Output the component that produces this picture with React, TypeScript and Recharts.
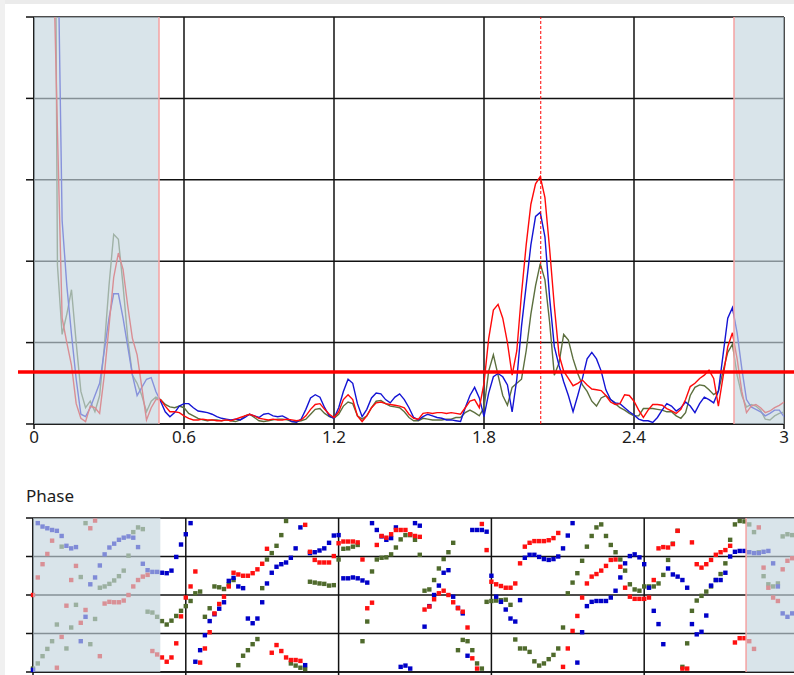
import React from "react";
import {
  LineChart,
  Line,
  ScatterChart,
  Scatter,
  XAxis,
  YAxis,
  CartesianGrid,
  ReferenceArea,
  ReferenceLine,
} from "recharts";

// frequency bins (same grid for magnitude and phase)
const BIN = 0.01875;
const freq = Array.from({ length: 161 }, (_, i) => Number((i * BIN).toFixed(5)));

const xTicks = [0, 0.6, 1.2, 1.8, 2.4, 3];
const magTicks = [0, 1, 2, 3, 4, 5];
const phaseTicks = [-180, -90, 0, 90, 180];

const lowBand = [0, 0.5];
const highBand = [2.8, 3];
const markerFreq = 2.027;
const threshold = 0.64;

// magnitude (values above 5 run off the top)
const magRed = [
  22, 18, 14, 10, 6.1, 3.6, 1.3, 1.0, 0.72, 0.25,
  0.07, 0.03, 0.22, 0.2, 0.13, 0.6, 1.2, 1.8, 2.1, 1.9,
  1.45, 1.05, 0.85, 0.45, 0.05, 0.2, 0.3, 0.3, 0.22, 0.15,
  0.15, 0.14, 0.1, 0.07, 0.05, 0.05, 0.06, 0.05, 0.05, 0.04,
  0.04, 0.05, 0.04, 0.06, 0.08, 0.1, 0.12, 0.1, 0.07, 0.06,
  0.05, 0.06, 0.05, 0.05, 0.06, 0.05, 0.04, 0.05, 0.1, 0.18,
  0.24, 0.25, 0.18, 0.12, 0.08, 0.15, 0.3, 0.36, 0.3, 0.1,
  0.03, 0.1, 0.2, 0.26, 0.27, 0.25, 0.24, 0.23, 0.22, 0.2,
  0.12, 0.07, 0.06, 0.13, 0.14, 0.13, 0.14, 0.14, 0.13, 0.14,
  0.13, 0.12, 0.2, 0.28, 0.3, 0.2, 0.5, 1.05, 1.4, 1.47,
  1.3, 1.0, 0.6, 0.9, 1.6, 2.2, 2.7, 2.95, 3.04, 2.78,
  2.15, 1.45, 0.85, 0.65, 0.56, 0.47, 0.5, 0.54, 0.48, 0.43,
  0.42, 0.41, 0.35, 0.27, 0.24, 0.25, 0.36, 0.35, 0.28, 0.17,
  0.08, 0.17, 0.24, 0.24, 0.23, 0.19, 0.16, 0.13, 0.18, 0.3,
  0.46, 0.5, 0.56, 0.6, 0.66, 0.56, 0.22, 0.58, 0.95, 1.12,
  0.8, 0.4, 0.14, 0.22, 0.24, 0.2, 0.14, 0.16, 0.2, 0.23, 0.27,
];
const magBlue = [
  24, 20, 15, 11, 8, 6.3, 2.5, 1.7, 1.1, 0.55,
  0.12, 0.09, 0.2, 0.35, 0.5, 0.9, 1.3, 1.6, 1.6, 1.3,
  0.95, 0.6, 0.35, 0.45, 0.55, 0.57, 0.4, 0.28, 0.15, 0.09,
  0.14, 0.22, 0.25, 0.25, 0.2, 0.16, 0.15, 0.14, 0.12, 0.09,
  0.07, 0.06, 0.05, 0.06, 0.05, 0.08, 0.12, 0.1, 0.08, 0.12,
  0.13, 0.1, 0.09, 0.1, 0.07, 0.03, 0.02, 0.06, 0.18, 0.32,
  0.36, 0.33, 0.2, 0.1, 0.07, 0.2, 0.4, 0.55, 0.5, 0.25,
  0.09, 0.18, 0.32, 0.38, 0.37, 0.3, 0.26, 0.33, 0.37, 0.3,
  0.2, 0.08, 0.05, 0.09, 0.12, 0.1, 0.08, 0.07, 0.05, 0.05,
  0.04, 0.03, 0.2, 0.35, 0.45, 0.32, 0.09, 0.38, 0.58, 0.62,
  0.58, 0.48, 0.15, 0.55, 1.2, 1.7, 2.2, 2.55, 2.6, 2.3,
  1.55, 0.95, 0.72, 0.52, 0.35, 0.15, 0.35, 0.56, 0.8, 0.88,
  0.8, 0.65, 0.42, 0.3, 0.26, 0.25, 0.2, 0.15, 0.11, 0.06,
  0.04, 0.04, 0.02, 0.08, 0.17, 0.25, 0.22, 0.16, 0.2, 0.27,
  0.22, 0.14, 0.25, 0.33, 0.3, 0.26, 0.4, 0.85, 1.3, 1.43,
  1.12, 0.68, 0.3, 0.21, 0.18, 0.15, 0.1, 0.13, 0.17, 0.17, 0.09,
];
const magGreen = [
  26, 22, 18, 15, 12, 1.95, 1.1, 1.35, 1.65, 1.0,
  0.4, 0.2, 0.28, 0.15, 0.35, 0.95, 1.7, 2.33, 2.27, 1.7,
  1.05, 0.6, 0.5, 0.35, 0.15, 0.28, 0.33, 0.3, 0.24, 0.21,
  0.2, 0.22, 0.2, 0.13, 0.1, 0.07, 0.05, 0.04, 0.05, 0.05,
  0.04, 0.05, 0.04, 0.03, 0.05, 0.1, 0.12, 0.08, 0.04, 0.03,
  0.04, 0.05, 0.06, 0.06, 0.05, 0.03, 0.03, 0.04, 0.06, 0.12,
  0.18, 0.19, 0.13, 0.09, 0.07, 0.12, 0.22, 0.27, 0.25, 0.1,
  0.06, 0.1, 0.2, 0.28, 0.29, 0.25, 0.22, 0.21, 0.2, 0.15,
  0.08, 0.04, 0.04, 0.07, 0.06, 0.05, 0.05, 0.05, 0.06, 0.06,
  0.08, 0.08, 0.14, 0.17, 0.14, 0.1, 0.2, 0.65, 0.85, 0.6,
  0.35, 0.23, 0.45, 0.5, 0.55, 0.9, 1.35, 1.7, 1.97, 1.77,
  1.25, 0.6, 0.75, 1.1, 1.03, 0.8, 0.62, 0.48, 0.4, 0.28,
  0.22, 0.32, 0.35, 0.3, 0.25, 0.2, 0.17, 0.13, 0.1, 0.1,
  0.19, 0.19, 0.19, 0.18, 0.17, 0.15, 0.15, 0.1, 0.07, 0.14,
  0.35, 0.45, 0.48, 0.47, 0.42, 0.36, 0.4, 0.65, 0.88, 0.98,
  0.6, 0.35, 0.21, 0.24, 0.22, 0.17, 0.06, 0.05, 0.1, 0.13, 0.15,
];

// phase in degrees
const phaseRed = [
  0, 41, 72, 96, 127, -170, -98, -25, 35, 68,
  -65, -35, 156, 174, -143, -20, -16, -17, -17, -13,
  0, 20, 35, 43, 47, -131, -139, -146, -156, -146,
  -113, -50, -6, 20, 55, -158, -125, -87, -43, -21,
  -4, 20, 52, 48, 45, 45, 51, 60, 73, 108,
  -135, -117, -131, -146, -152, -152, -154, 164, 101, 82,
  76, 76, 76, 91, 121, 125, 125, 125, 123, 83,
  -31, -18, 117, 138, 134, 142, 152, 152, 152, 142,
  138, 136, -34, -27, -10, 4, 10, 0, -17, -31,
  -39, -76, -148, -172, 166, 105, 31, 25, 21, 17,
  17, 27, 74, 113, 122, 126, 126, 126, 128, 133,
  145, -168, -125, -84, -49, -6, 27, 43, 49, 57,
  68, 82, 83, 66, 17, -4, -9, -9, -9, -6,
  35, 109, 112, 111, 119, 150, -172, -172, 123, 72,
  64, 72, 82, 94, 100, 105, 115, -111, -101, -101,
  -108, -126, 158, 64, 17, -6, -14, 60, 80, 86, 88,
];
const phaseBlue = [
  -175, 168, 160, 156, 152, 150, 138, 115, 109, 112,
  -108, -51, 25, 41, 69, 95, 111, 120, 129, 134,
  137, 134, 112, 73, 58, 54, 54, 52, 51, 57,
  89, 118, 142, 168, -156, -129, -94, -61, -45, -32,
  -17, 33, 40, 20, 16, -55, -66, -55, -17, 27,
  52, 66, 72, 76, 87, 109, 158, -164, 98, 100,
  104, 109, 122, 139, 140, 39, 39, 41, 39, 34,
  29, 168, 152, 137, 129, 133, 158, -168, -165, -172,
  168, 162, -74, -26, 0, 22, 52, 58, -4, -30,
  -43, -142, 152, 152, 152, 148, 45, -4, -16, -34,
  -55, -62, -12, 87, 94, 94, 89, 84, 82, 84,
  90, 109, 139, 168, -158, -87, -26, -16, -14, -14,
  -14, -6, 10, 41, 74, 91, 95, 88, 72, 17,
  -37, -68, -115, 62, 48, 43, 35, 17, -68, -92,
  -86, -48, 22, 35, 35, 52, 90, 101, 103, 103,
  100, 98, 98, 101, 103, 74, 20, -43, -51, -43, -40,
];
const phaseGreen = [
  -172, -160, -143, -126, -108, -69, 113, -125, -76, -23,
  42, 168, -115, -56, 17, 20, 26, 34, 44, 57,
  92, 147, 158, 154, -39, -41, -51, -61, -69, -60,
  -49, -37, -26, -14, 4, 8, -51, -31, 20, 18,
  14, 25, 35, -164, -142, -129, -115, -103, 16, 83,
  98, 115, 140, 173, -160, -165, -170, -173, 31, 29,
  27, 26, 22, 23, 83, 108, 109, 113, 117, -108,
  -62, 55, 83, 87, 88, 95, 111, 130, 140, 140,
  129, 94, 10, 13, 35, 62, 84, 100, 122, -129,
  -105, -108, -129, -160, -172, -16, -14, -13, -12, -11,
  -23, -104, -125, -125, -133, -155, -165, -160, -150, -140,
  -125, -76, 4, 29, 51, 80, 113, 138, 158, 165,
  138, 117, 100, 83, 57, 25, 13, 10, 20, 20,
  20, 27, 47, 82, 120, 150, -168, -113, -37, -13,
  -2, 8, 20, 35, 49, 74, 129, 165, 173, 172,
  165, 147, 100, 44, 25, 20, 27, 137, 142, 140, 138,
];

const RED = "#ff0a0a";
const BLUE = "#1414d4";
const GREEN = "#5c6f3e";
const SHADE = "rgb(197,213,222)";
const FONT = "'Noto Sans', 'Open Sans', sans-serif";
const GRID = "#111";

const magRows = freq.map((f, i) => ({ f, red: magRed[i], blue: magBlue[i], green: magGreen[i] }));
const phaseRows = (vals: number[]) => freq.map((f, i) => ({ f, p: vals[i] }));

const square = (color: string) => (props: any) => (
  <rect x={props.cx - 2.2} y={props.cy - 2.2} width={4.4} height={4.4} fill={color} />
);

// axis ticks that keep their tick marks but draw no label
const noLabel = () => <g />;

const tickStyle = { fill: "#1c1c1c", fontSize: 17, fontFamily: FONT };

function MagnitudeChart() {
  return (
    <LineChart width={794} height={450} data={magRows} margin={{ top: 17, right: 10, bottom: 0, left: 0 }}>
      <CartesianGrid stroke={GRID} strokeWidth={1.5} />
      <XAxis
        dataKey="f"
        type="number"
        domain={[0, 3]}
        ticks={xTicks}
        interval={0}
        height={26}
        tickSize={5}
        stroke={GRID}
        strokeWidth={1.5}
        tick={tickStyle}
      />
      <YAxis
        type="number"
        domain={[0, 5]}
        ticks={magTicks}
        interval={0}
        width={34}
        tickSize={8}
        stroke={GRID}
        strokeWidth={1.5}
        tick={noLabel}
        allowDataOverflow
      />
      <Line dataKey="green" stroke={GREEN} strokeWidth={1.4} dot={false} isAnimationActive={false} />
      <Line dataKey="blue" stroke={BLUE} strokeWidth={1.4} dot={false} isAnimationActive={false} />
      <Line dataKey="red" stroke={RED} strokeWidth={1.4} dot={false} isAnimationActive={false} />
      <ReferenceArea x1={lowBand[0]} x2={lowBand[1]} fill={SHADE} fillOpacity={0.65} stroke="none" zIndex={1500} />
      <ReferenceArea x1={highBand[0]} x2={highBand[1]} fill={SHADE} fillOpacity={0.65} stroke="none" zIndex={1500} />
      <ReferenceLine x={lowBand[1]} stroke="#f4a2a2" strokeWidth={1.5} zIndex={1600} />
      <ReferenceLine x={highBand[0]} stroke="#f4a2a2" strokeWidth={1.5} zIndex={1600} />
      <ReferenceLine x={markerFreq} stroke="#ff0000" strokeDasharray="3 2" strokeWidth={1} zIndex={1600} />
      <ReferenceLine
        y={threshold}
        zIndex={1700}
        shape={(p: any) => (
          <line x1={p.x1 - 16} x2={p.x2 + 10} y1={p.y1} y2={p.y2} stroke="#ff0000" strokeWidth={3.5} />
        )}
      />
    </LineChart>
  );
}

function PhaseChart() {
  return (
    <ScatterChart width={807} height={200} margin={{ top: 18, right: 10, bottom: 0, left: 0 }}>
      <CartesianGrid stroke={GRID} strokeWidth={1.5} />
      <XAxis
        dataKey="f"
        type="number"
        domain={[0, 3]}
        ticks={xTicks}
        interval={0}
        height={28}
        tickSize={5}
        stroke={GRID}
        strokeWidth={1.5}
        tick={noLabel}
      />
      <YAxis
        dataKey="p"
        type="number"
        domain={[-180, 180]}
        ticks={phaseTicks}
        interval={0}
        width={33}
        tickSize={7}
        stroke={GRID}
        strokeWidth={1.5}
        tick={noLabel}
      />
      <Scatter data={phaseRows(phaseGreen)} shape={square("#4f6a2c")} isAnimationActive={false} />
      <Scatter data={phaseRows(phaseBlue)} shape={square("#0000c8")} isAnimationActive={false} />
      <Scatter data={phaseRows(phaseRed)} shape={square("#ff1010")} isAnimationActive={false} />
      <ReferenceArea x1={lowBand[0]} x2={lowBand[1]} fill={SHADE} fillOpacity={0.65} stroke="none" zIndex={1500} />
      <ReferenceArea x1={highBand[0]} x2={highBand[1]} fill={SHADE} fillOpacity={0.65} stroke="none" zIndex={1500} />
      <ReferenceLine x={highBand[0]} stroke="#f4a2a2" strokeWidth={1.5} zIndex={1600} />
    </ScatterChart>
  );
}

export default function App() {
  return (
    <div
      style={{
        position: "absolute",
        left: 0,
        top: 0,
        width: 794,
        height: 675,
        overflow: "hidden",
        background: "#fff",
        fontFamily: FONT,
      }}
    >
      <div style={{ position: "absolute", left: 0, top: 0, width: 794, height: 4, background: "#ebebeb" }} />
      <div style={{ position: "absolute", left: 0, top: 0, width: 5, height: 675, background: "#f0f0f0" }} />
      <div style={{ position: "absolute", left: 0, top: 0 }}>
        <MagnitudeChart />
      </div>
      <div style={{ position: "absolute", left: 26, top: 484, fontSize: 17, color: "#1c1c1c" }}>Phase</div>
      <div style={{ position: "absolute", left: 0, top: 500 }}>
        <PhaseChart />
      </div>
    </div>
  );
}
